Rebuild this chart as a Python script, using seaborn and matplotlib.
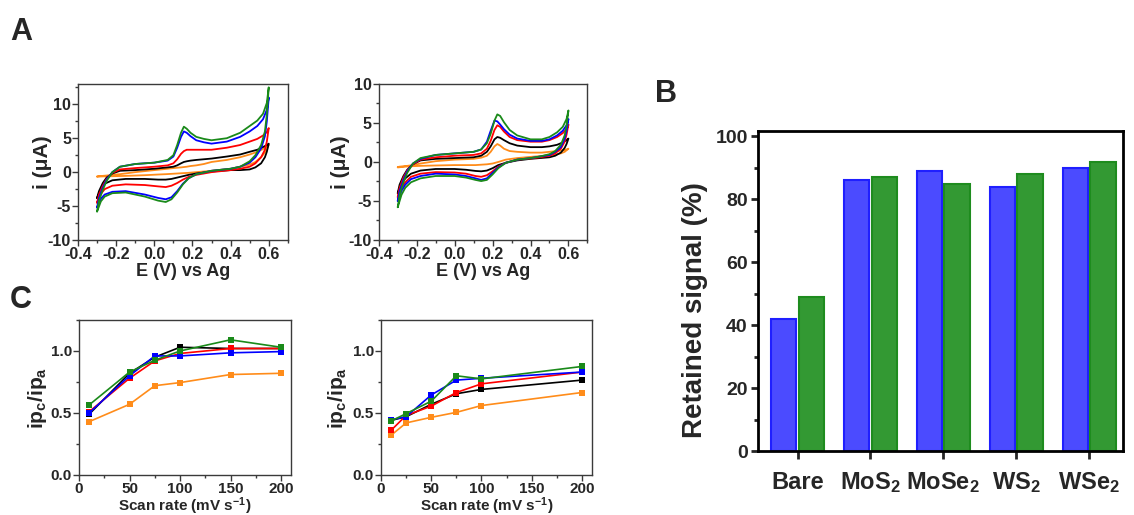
import numpy as np
import pandas as pd
import seaborn as sns
import matplotlib.pyplot as plt
from matplotlib.ticker import MultipleLocator

# ---- data ----
scans = ["s1", "s2", "s3", "s4", "s5"]
line_colors = ["#ff8c1a", "#000000", "#ff0000", "#0000ff", "#1a8a1a"]

# panel A, left: cyclic voltammograms (forward and reverse branches)
a1_e_fwd = [-0.3, -0.29, -0.27, -0.25, -0.22, -0.18, -0.1, 0.0, 0.07, 0.1, 0.12, 0.14, 0.155,
            0.17, 0.19, 0.22, 0.26, 0.3, 0.38, 0.45, 0.5, 0.54, 0.57, 0.59, 0.6]
a1_i_fwd = {
    "s1": [-0.65, -0.6, -0.55, -0.5, -0.4, -0.3, 0.0, 0.3, 0.5, 0.6, 0.65, 0.7, 0.75,
           0.8, 0.9, 1.0, 1.2, 1.5, 1.8, 2.2, 2.6, 3.0, 3.4, 3.8, 4.0],
    "s2": [-3.8, -2.8, -1.6, -0.8, -0.2, 0.2, 0.3, 0.5, 0.7, 0.8, 1.0, 1.3, 1.5,
           1.6, 1.7, 1.8, 1.9, 2.0, 2.3, 2.6, 3.0, 3.3, 3.7, 4.0, 4.2],
    "s3": [-4.5, -3.3, -2.0, -1.0, -0.1, 0.4, 0.6, 0.8, 1.0, 1.3, 1.9, 2.7, 3.1,
           3.3, 3.3, 3.3, 3.3, 3.3, 3.6, 4.0, 4.5, 4.9, 5.4, 5.9, 6.5],
    "s4": [-5.2, -3.8, -2.3, -1.1, 0.0, 0.8, 1.2, 1.4, 1.7, 2.3, 3.6, 5.2, 6.0,
           5.8, 5.3, 4.7, 4.4, 4.2, 4.5, 5.2, 6.0, 6.8, 7.8, 9.2, 11.0],
    "s5": [-5.8, -4.2, -2.6, -1.3, 0.0, 0.8, 1.2, 1.4, 1.8, 2.5, 4.0, 5.8, 6.7,
           6.4, 5.8, 5.2, 4.9, 4.7, 5.0, 5.8, 6.8, 7.6, 8.6, 10.2, 12.5],
}
a1_e_rev = [0.6, 0.59, 0.58, 0.56, 0.53, 0.5, 0.45, 0.4, 0.3, 0.22, 0.18, 0.15, 0.12,
            0.09, 0.06, 0.02, -0.05, -0.15, -0.22, -0.26, -0.28, -0.3]
a1_i_rev = {
    "s1": [4.0, 3.4, 2.9, 2.2, 1.5, 1.1, 0.8, 0.5, 0.2, 0.0, -0.1, -0.15, -0.2,
           -0.25, -0.3, -0.35, -0.45, -0.55, -0.6, -0.62, -0.64, -0.65],
    "s2": [4.2, 3.0, 2.2, 1.3, 0.7, 0.4, 0.3, 0.3, 0.1, -0.2, -0.4, -0.6, -0.8,
           -1.0, -1.1, -1.1, -1.0, -1.0, -1.2, -1.7, -2.5, -3.8],
    "s3": [6.5, 4.5, 3.3, 2.2, 1.3, 0.8, 0.5, 0.3, 0.0, -0.4, -0.7, -1.1, -1.6,
           -2.0, -2.2, -2.1, -1.9, -1.8, -2.0, -2.5, -3.2, -4.5],
    "s4": [11.0, 7.5, 5.3, 3.5, 2.2, 1.4, 0.8, 0.5, 0.2, -0.3, -0.9, -1.7, -2.8,
           -3.7, -4.0, -3.8, -3.3, -2.8, -2.9, -3.3, -3.9, -5.2],
    "s5": [12.5, 8.5, 6.0, 4.0, 2.5, 1.6, 0.8, 0.5, 0.2, -0.3, -0.9, -1.8, -3.0,
           -4.0, -4.4, -4.2, -3.6, -3.0, -3.1, -3.6, -4.3, -5.8],
}

# panel A, right
a2_e_fwd = [-0.3, -0.29, -0.27, -0.25, -0.22, -0.18, -0.1, 0.0, 0.1, 0.14, 0.17, 0.19, 0.21,
            0.225, 0.24, 0.26, 0.29, 0.33, 0.4, 0.46, 0.5, 0.54, 0.57, 0.59, 0.6]
a2_i_fwd = {
    "s1": [-0.65, -0.6, -0.55, -0.5, -0.4, -0.2, 0.1, 0.3, 0.4, 0.55, 0.8, 1.3, 2.0,
           2.3, 2.1, 1.7, 1.4, 1.3, 1.2, 1.2, 1.3, 1.4, 1.5, 1.6, 1.7],
    "s2": [-4.0, -2.9, -1.8, -1.0, -0.3, 0.2, 0.4, 0.5, 0.6, 0.8, 1.3, 2.0, 2.9,
           3.2, 3.1, 2.8, 2.4, 2.1, 1.9, 1.9, 2.0, 2.2, 2.5, 2.8, 3.0],
    "s3": [-4.5, -3.3, -2.0, -1.1, -0.3, 0.3, 0.6, 0.8, 0.9, 1.1, 1.7, 2.7, 4.1,
           4.7, 4.5, 3.9, 3.2, 2.8, 2.6, 2.6, 2.8, 3.2, 3.7, 4.2, 4.8],
    "s4": [-5.0, -3.7, -2.3, -1.2, -0.2, 0.4, 0.9, 1.1, 1.3, 1.6, 2.6, 4.0, 5.3,
           5.2, 4.8, 4.2, 3.5, 3.0, 2.7, 2.7, 2.9, 3.4, 4.0, 4.7, 5.5],
    "s5": [-5.8, -4.2, -2.6, -1.4, -0.2, 0.5, 0.9, 1.1, 1.3, 1.6, 2.4, 3.6, 5.3,
           6.1, 5.9, 5.1, 4.1, 3.4, 2.9, 2.9, 3.2, 3.8, 4.5, 5.5, 6.6],
}
a2_e_rev = [0.6, 0.59, 0.58, 0.56, 0.53, 0.5, 0.45, 0.4, 0.33, 0.27, 0.23, 0.2, 0.17,
            0.14, 0.11, 0.06, 0.0, -0.1, -0.18, -0.23, -0.26, -0.28, -0.3]
a2_i_rev = {
    "s1": [1.7, 1.5, 1.3, 1.1, 0.95, 0.85, 0.75, 0.65, 0.5, 0.3, 0.0, -0.2, -0.3,
           -0.35, -0.4, -0.4, -0.4, -0.45, -0.5, -0.55, -0.6, -0.65, -0.7],
    "s2": [3.0, 2.3, 1.8, 1.2, 0.8, 0.6, 0.5, 0.4, 0.2, -0.1, -0.4, -0.8, -1.1,
           -1.2, -1.15, -1.0, -0.9, -0.9, -1.1, -1.5, -2.1, -2.8, -4.0],
    "s3": [4.8, 3.5, 2.6, 1.7, 1.1, 0.8, 0.6, 0.45, 0.3, -0.1, -0.6, -1.2, -1.7,
           -1.9, -1.8, -1.5, -1.35, -1.3, -1.5, -1.9, -2.6, -3.3, -4.5],
    "s4": [5.5, 4.0, 3.0, 1.9, 1.3, 0.9, 0.7, 0.5, 0.3, -0.1, -0.7, -1.4, -2.1,
           -2.3, -2.1, -1.8, -1.6, -1.5, -1.8, -2.2, -2.9, -3.7, -5.0],
    "s5": [6.6, 4.6, 3.4, 2.2, 1.4, 1.0, 0.7, 0.5, 0.3, -0.1, -0.8, -1.6, -2.3,
           -2.45, -2.3, -2.0, -1.8, -1.8, -2.1, -2.6, -3.3, -4.2, -5.8],
}

# panel C: ipc/ipa vs scan rate
c1_rate = [10, 50, 75, 100, 150, 200]
c1_ratio = {
    "s1": [0.43, 0.57, 0.72, 0.745, 0.81, 0.82],
    "s2": [0.49, 0.82, 0.95, 1.03, 1.02, 1.02],
    "s3": [0.51, 0.78, 0.92, 0.98, 1.02, 1.02],
    "s4": [0.50, 0.80, 0.96, 0.96, 0.985, 0.995],
    "s5": [0.565, 0.83, 0.925, 1.00, 1.09, 1.03],
}
c2_rate = [10, 25, 50, 75, 100, 200]
c2_ratio = {
    "s1": [0.32, 0.42, 0.465, 0.505, 0.56, 0.665],
    "s2": [0.44, 0.47, 0.57, 0.655, 0.69, 0.765],
    "s3": [0.36, 0.48, 0.555, 0.665, 0.735, 0.83],
    "s4": [0.445, 0.47, 0.645, 0.765, 0.78, 0.83],
    "s5": [0.435, 0.495, 0.595, 0.80, 0.775, 0.875],
}

# panel B: retained signal
materials = ["Bare", "MoS$_2$", "MoSe$_2$", "WS$_2$", "WSe$_2$"]
retained_blue = [42, 86, 89, 84, 90]
retained_green = [49, 87, 85, 88, 92]


def cv_frame(e_fwd, i_fwd, e_rev, i_rev):
    rows = []
    for s in scans:
        for e, i in zip(list(e_fwd) + list(e_rev), i_fwd[s] + i_rev[s]):
            rows.append({"E": e, "i": i, "scan": s})
    return pd.DataFrame(rows)


def ratio_frame(rate, ratio):
    rows = []
    for s in scans:
        for r, v in zip(rate, ratio[s]):
            rows.append({"rate": r, "ratio": v, "scan": s})
    return pd.DataFrame(rows)


sns.set_style("ticks")
plt.rcParams["font.family"] = ["Liberation Sans", "DejaVu Sans"]
plt.rcParams["font.weight"] = "bold"
plt.rcParams["axes.labelweight"] = "bold"
plt.rcParams["axes.unicode_minus"] = False
plt.rcParams["mathtext.fontset"] = "custom"
plt.rcParams["mathtext.rm"] = "Liberation Sans:bold"
plt.rcParams["mathtext.it"] = "Liberation Sans:bold"
plt.rcParams["mathtext.bf"] = "Liberation Sans:bold"

fig = plt.figure(figsize=(11.34, 5.15), dpi=100)
palette = dict(zip(scans, line_colors))


def style_small(ax, size=11.5):
    for sp in ax.spines.values():
        sp.set_color("#3a3a3a")
        sp.set_linewidth(1.0)
    ax.tick_params(which="major", direction="out", length=4, width=1,
                   color="#3a3a3a", labelsize=size, pad=1)
    ax.tick_params(which="minor", direction="out", length=2.5, width=1,
                   color="#3a3a3a")
    for lab in ax.get_xticklabels() + ax.get_yticklabels():
        lab.set_fontweight("bold")


# ---- panel A ----
for rect, (ef, iff, er, ir), lab_x, ylim in [
    ([0.0688, 0.534, 0.185, 0.303], (a1_e_fwd, a1_i_fwd, a1_e_rev, a1_i_rev), -0.125, (-10, 13)),
    ([0.334, 0.534, 0.184, 0.303], (a2_e_fwd, a2_i_fwd, a2_e_rev, a2_i_rev), -0.14, (-10, 10)),
]:
    ax = fig.add_axes(rect)
    sns.lineplot(data=cv_frame(ef, iff, er, ir), x="E", y="i", hue="scan",
                 palette=palette, sort=False, estimator=None, linewidth=1.3,
                 legend=False, ax=ax)
    ax.set_xlim(-0.4, 0.7)
    ax.set_ylim(*ylim)
    ax.xaxis.set_major_locator(MultipleLocator(0.2))
    ax.xaxis.set_minor_locator(MultipleLocator(0.1))
    ax.yaxis.set_major_locator(MultipleLocator(5))
    ax.yaxis.set_minor_locator(MultipleLocator(2.5))
    ax.set_xticklabels([f"{v:.1f}" for v in ax.get_xticks()])
    ax.set_xlabel("E (V) vs Ag", fontsize=13, labelpad=1)
    ax.set_ylabel("i (\u03bcA)", fontsize=15)
    ax.yaxis.set_label_coords(lab_x, 0.5)
    style_small(ax)

# ---- panel C ----
for rect, (rate, ratio), lab_x in [
    ([0.0697, 0.0777, 0.187, 0.301], (c1_rate, c1_ratio), -0.14),
    ([0.336, 0.0777, 0.186, 0.301], (c2_rate, c2_ratio), -0.15),
]:
    ax = fig.add_axes(rect)
    sns.lineplot(data=ratio_frame(rate, ratio), x="rate", y="ratio", hue="scan",
                 palette=palette, marker="s", markersize=5, markeredgewidth=0,
                 linewidth=1.2, legend=False, ax=ax)
    ax.set_xlim(0, 210)
    ax.set_ylim(0, 1.25)
    ax.xaxis.set_major_locator(MultipleLocator(50))
    ax.xaxis.set_minor_locator(MultipleLocator(25))
    ax.yaxis.set_minor_locator(MultipleLocator(0.25))
    ax.set_yticks([0, 0.5, 1.0])
    ax.set_yticklabels(["0.0", "0.5", "1.0"])
    ax.set_xlabel("Scan rate (mV s$^{-1}$)", fontsize=11)
    ax.xaxis.set_label_coords(0.5, -0.13)
    ax.set_ylabel("ip$_\\mathrm{c}$/ip$_\\mathrm{a}$", fontsize=15)
    ax.yaxis.set_label_coords(lab_x, 0.5)
    style_small(ax, size=11)

# ---- panel B ----
axb = fig.add_axes([0.668, 0.124, 0.322, 0.621])
dfb = pd.DataFrame({
    "material": materials * 2,
    "signal": retained_blue + retained_green,
    "cond": ["blue"] * 5 + ["green"] * 5,
})
sns.barplot(data=dfb, x="material", y="signal", hue="cond",
            palette={"blue": "#4b4bff", "green": "#339933"}, saturation=1,
            width=0.76, gap=0.08, linewidth=1.5, legend=False, ax=axb)
for cont, ec in zip(axb.containers, ["#1f1fff", "#1e8c1e"]):
    for p in cont:
        p.set_edgecolor(ec)
axb.set_xlim(-0.55, 4.46)
axb.set_ylim(0, 101.6)
axb.yaxis.set_major_locator(MultipleLocator(20))
axb.yaxis.set_minor_locator(MultipleLocator(10))
axb.set_xlabel("")
axb.set_ylabel("Retained signal (%)", fontsize=20)
axb.yaxis.set_label_coords(-0.135, 0.44)
for sp in axb.spines.values():
    sp.set_color("black")
    sp.set_linewidth(2)
    sp.set_visible(True)
axb.tick_params(axis="y", which="major", direction="out", length=5, width=2,
                labelsize=14, pad=2)
axb.tick_params(axis="y", which="minor", direction="out", length=3, width=2)
axb.tick_params(axis="x", which="major", direction="out", length=6, width=2,
                labelsize=17, pad=8)
for lab in axb.get_xticklabels() + axb.get_yticklabels():
    lab.set_fontweight("bold")

# panel letters
fig.text(10 / 1134, 1 - 40 / 515, "A", fontsize=22, fontweight="bold")
fig.text(655 / 1134, 1 - 102 / 515, "B", fontsize=22, fontweight="bold")
fig.text(10 / 1134, 1 - 308 / 515, "C", fontsize=22, fontweight="bold")

fig.savefig("out.png", dpi=100)
